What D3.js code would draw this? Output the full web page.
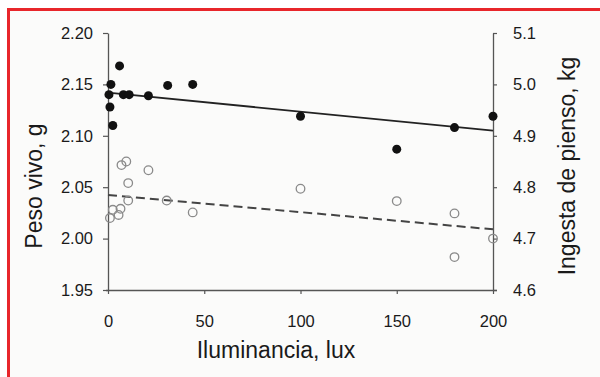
<!DOCTYPE html>
<html>
<head>
<meta charset="utf-8">
<script src="https://cdn.jsdelivr.net/npm/d3@7"></script>
<style>
  html, body { margin: 0; padding: 0; background: #ffffff; }
  svg { display: block; }
  text { font-family: "Liberation Sans", Arial, sans-serif; fill: #1a1a1a; }
</style>
</head>
<body>
<svg id="chart" width="600" height="377"></svg>
<script>
// Illuminance (lux) vs. live weight (left axis) and feed intake (right axis)
const pesoLux   = [0.5, 1.5, 1, 2.5, 6, 8, 11, 21, 31, 44, 100, 150, 180, 200];
const pesoVivo  = [2.140, 2.150, 2.128, 2.110, 2.168, 2.140, 2.140, 2.139, 2.149, 2.150, 2.119, 2.087, 2.108, 2.119];

const ingestaLux = [1, 2.5, 5.5, 6.5, 10.5, 10.5, 7, 9.5, 21, 30.5, 44, 100, 150, 180, 180, 200];
const ingesta    = [4.740, 4.756, 4.746, 4.758, 4.774, 4.808, 4.843, 4.850, 4.833, 4.774, 4.751, 4.797, 4.773, 4.749, 4.664, 4.700];

// Fitted trend lines: [intercept, slope]
const pesoFit    = [2.142, -0.000185];
const ingestaFit = [4.785, -0.000335];

const xTicks      = [0, 50, 100, 150, 200];
const yLeftTicks  = [1.95, 2.00, 2.05, 2.10, 2.15, 2.20];
const yRightTicks = [4.6, 4.7, 4.8, 4.9, 5.0, 5.1];

const svg = d3.select("#chart");

// panel background and red frame
svg.append("rect").attr("x", 8).attr("y", 9).attr("width", 592).attr("height", 368).attr("fill", "#fbfbfa");
svg.append("line").attr("x1", 8.5).attr("x2", 8.5).attr("y1", 8).attr("y2", 377).attr("stroke", "#e8262b").attr("stroke-width", 3);
svg.append("line").attr("x1", 7).attr("x2", 600).attr("y1", 9.5).attr("y2", 9.5).attr("stroke", "#e8262b").attr("stroke-width", 3);

const x  = d3.scaleLinear().domain([0, 200]).range([108, 493]);
const yL = d3.scaleLinear().domain([1.95, 2.20]).range([290, 33]);
const yR = d3.scaleLinear().domain([4.6, 5.1]).range([290, 33]);

const axisColor = "#555";

const gx = svg.append("g").attr("transform", "translate(0,290)")
  .call(d3.axisBottom(x).tickValues(xTicks).tickFormat(d3.format("d")).tickSizeInner(4).tickSizeOuter(0).tickPadding(21));
const gl = svg.append("g").attr("transform", "translate(108,0)")
  .call(d3.axisLeft(yL).tickValues(yLeftTicks).tickFormat(d3.format(".2f")).tickSizeInner(5).tickSizeOuter(0).tickPadding(10));
const gr = svg.append("g").attr("transform", "translate(493,0)")
  .call(d3.axisRight(yR).tickValues(yRightTicks).tickFormat(d3.format(".1f")).tickSizeInner(4).tickSizeOuter(0).tickPadding(16));

[gx, gl, gr].forEach(g => {
  g.select(".domain").attr("stroke", axisColor).attr("stroke-width", 1.3);
  g.selectAll(".tick line").attr("stroke", axisColor).attr("stroke-width", 1.2);
  g.selectAll(".tick text").attr("fill", "#1a1a1a").style("font-size", "16.5px")
    .style("font-family", '"Liberation Sans", Arial, sans-serif');
});
gx.select(".domain").attr("d", "M106,0.5H497");

// axis titles
svg.append("text").attr("x", 276).attr("y", 358).attr("text-anchor", "middle")
  .style("font-size", "23px").text("Iluminancia, lux");
svg.append("text").attr("transform", "translate(42,186) rotate(-90)").attr("text-anchor", "middle")
  .style("font-size", "23px").text("Peso vivo, g");
svg.append("text").attr("transform", "translate(575,166) rotate(-90)").attr("text-anchor", "middle")
  .style("font-size", "23px").text("Ingesta de pienso, kg");

// trend lines
const fitLine = (fit, yScale) => d3.line()
  .x(d => x(d))
  .y(d => yScale(fit[0] + fit[1] * d));

svg.append("path").datum([0, 200]).attr("d", fitLine(pesoFit, yL))
  .attr("fill", "none").attr("stroke", "#222").attr("stroke-width", 1.8);
svg.append("path").datum([0, 200]).attr("d", fitLine(ingestaFit, yR))
  .attr("fill", "none").attr("stroke", "#444").attr("stroke-width", 2).attr("stroke-dasharray", "9,5");

// open circles: feed intake
svg.append("g").selectAll("circle").data(ingesta).join("circle")
  .attr("cx", (d, i) => x(ingestaLux[i])).attr("cy", d => yR(d)).attr("r", 4.3)
  .attr("fill", "none").attr("stroke", "#8a8a8a").attr("stroke-width", 1.3);

// filled circles: live weight
svg.append("g").selectAll("circle").data(pesoVivo).join("circle")
  .attr("cx", (d, i) => x(pesoLux[i])).attr("cy", d => yL(d)).attr("r", 4.5)
  .attr("fill", "#111");
</script>
</body>
</html>
